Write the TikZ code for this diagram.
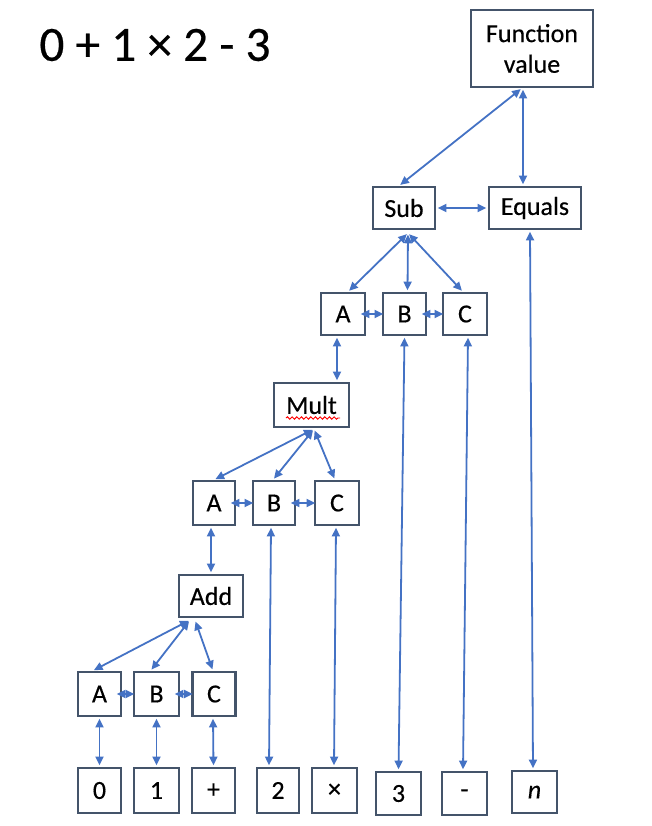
\documentclass[tikz,border=0pt]{standalone}
\usepackage{fontspec}
\setmainfont{Carlito}[FakeBold=0.4, AutoFakeBold=0.4]
\usetikzlibrary{arrows.meta,calc,decorations.pathmorphing}
\definecolor{edgeblue}{HTML}{4472C4}
\definecolor{boxc}{HTML}{44546A}
\begin{document}
\begin{tikzpicture}[x=0.75pt,y=-0.75pt,
  box/.style={draw=boxc, line width=1.7pt, inner sep=0pt, font=\fontsize{19.5}{23}\selectfont\bfseries, align=center},
  sz/.style 2 args={minimum width=#1*0.75pt, minimum height=#2*0.75pt},
  link/.style={draw=edgeblue, line width=1.35pt, {Triangle[length=6.5pt,width=6pt]}-{Triangle[length=6.5pt,width=6pt]}, shorten <=1.2pt, shorten >=1.2pt},
  hlink/.style={link, shorten <=-4pt, shorten >=-1pt},
  squiggle/.style={draw=red, line width=0.7pt, decorate, decoration={snake, amplitude=0.9pt, segment length=3.5pt}}]
\useasboundingbox (0,0) rectangle (652,826);

\node[font=\fontsize{37}{40}\selectfont\bfseries] (title) at (155,45) {0 + 1 × 2 - 3};

\node[box, sz={122}{77}] (fv) at (532,48.5) {Function\\value};
\node[box, sz={62}{42}] (sub) at (404,208) {Sub};
\node[box, sz={92}{42}] (eq) at (535,208) {Equals};
\node[box, sz={44}{42}] (a2) at (343,314) {A};
\node[box, sz={43}{42}] (b2) at (404.5,314) {B};
\node[box, sz={44}{42}] (c2) at (465,314) {C};
\node[box, sz={75}{44}] (mult) at (311.5,405) {Mult};
\node[box, sz={42}{44}] (a1) at (214,503) {A};
\node[box, sz={42}{44}] (b1) at (274,503) {B};
\node[box, sz={44}{44}] (c1) at (337,503) {C};
\node[box, sz={64}{42}] (add) at (211,596) {Add};
\node[box, sz={43}{44}] (a0) at (99.5,694) {A};
\node[box, sz={45}{44}] (b0) at (156.5,694) {B};
\node[box, sz={43}{44}] (c0) at (214,694) {C};

\node[box, sz={43}{45}] (t0) at (99.5,790.5) {0};
\node[box, sz={45}{45}] (t1) at (156.5,790.5) {1};
\node[box, sz={43}{45}] (tp) at (213.5,790.5) {+};
\node[box, sz={42}{45}] (t2) at (278,790.5) {2};
\node[box, sz={45}{45}] (tx) at (334.5,790.5) {×};
\node[box, sz={45}{43}] (t3) at (398.5,793.5) {3};
\node[box, sz={45}{43}] (tm) at (464.5,793.5) {-};
\node[box, sz={45}{42}] (tn) at (534.5,792) {\itshape n};

\draw[squiggle] (286,418) -- (340,418);

\coordinate (subhub) at (408,233);
\coordinate (multhub) at (314,429);
\coordinate (addhub) at (190,620);
\coordinate (addhubc) at (195,620);

\draw[link] ($(fv.south)+(-10,0)$) -- ($(sub.north)+(-5,0)$);
\draw[link] ($(fv.south)+(-9,0)$) -- ($(eq.north)+(-12,0)$);
\draw[link] (sub.east) -- (eq.west);

\draw[link] (subhub) -- ($(a2.north)+(5,0)$);
\draw[link] (subhub) -- ($(b2.north)+(3,0)$);
\draw[link] (subhub) -- ($(c2.north)+(-2,0)$);
\draw[hlink] (a2.east) -- (b2.west);
\draw[hlink] (b2.east) -- (c2.west);
\draw[link] ($(a2.south)+(-6,0)$) -- ($(mult.north)+(25.5,0)$);
\draw[link] (b2.south) -- (t3.north);
\draw[link] ($(c2.south)+(3,0)$) -- ($(tm.north)+(-1.5,0)$);
\draw[link] ($(eq.south)+(-5,0)$) -- ($(tn.north)+(-1.5,0)$);

\draw[link] (multhub) -- (a1.north);
\draw[link] (multhub) -- ($(b1.north)+(-1,0)$);
\draw[link] (multhub) -- ($(c1.north)+(-2,0)$);
\draw[hlink] (a1.east) -- (b1.west);
\draw[hlink] (b1.east) -- (c1.west);
\draw[link] ($(a1.south)+(-3,0)$) -- (add.north);
\draw[link] ($(b1.south)+(-3,0)$) -- ($(t2.north)+(-9,0)$);
\draw[link] ($(c1.south)+(-1,0)$) -- ($(tx.north)+(-0.5,0)$);

\draw[link] (addhub) -- ($(a0.north)+(-7,0)$);
\draw[link] (addhub) -- ($(b0.north)+(-6,0)$);
\draw[link] (addhubc) -- ($(c0.north)+(-1,0)$);
\draw[hlink] (a0.east) -- (b0.west);
\draw[hlink] (b0.east) -- (c0.west);
\draw[link] (a0.south) -- (t0.north);
\draw[link] (b0.south) -- (t1.north);
\draw[link] ($(c0.south)+(-1,0)$) -- (tp.north);
\end{tikzpicture}
\end{document}
